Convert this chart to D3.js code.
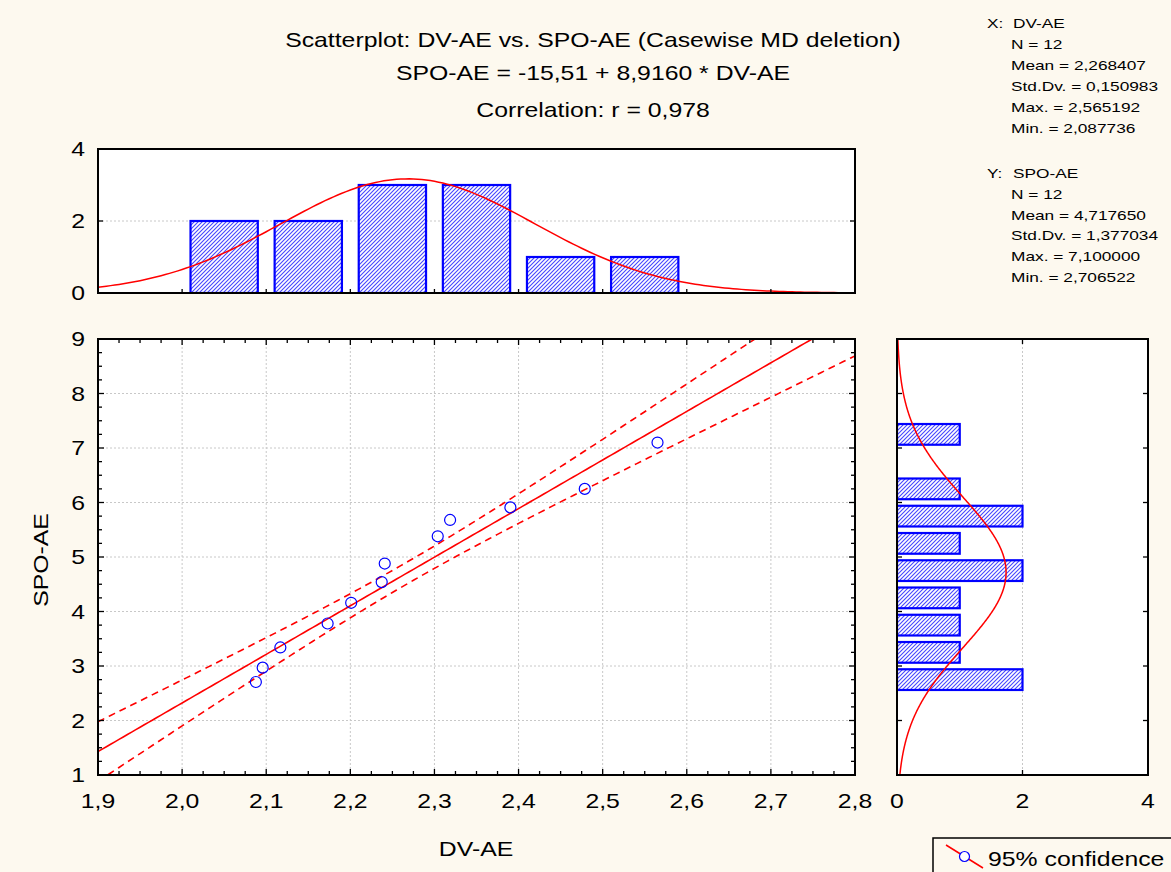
<!DOCTYPE html>
<html><head><meta charset="utf-8">
<script src="https://cdn.jsdelivr.net/npm/d3@7"></script>
<style>
html,body{margin:0;padding:0;background:#fdf9ef;}
svg{display:block;font-family:"Liberation Sans",Arial,sans-serif;}
</style></head>
<body><svg id="c" width="1171" height="872"></svg>
<script>
// ---- data ----
const dvAE  = [2.0877, 2.0958, 2.1168, 2.1730, 2.2010, 2.2373, 2.2409, 2.3039, 2.3186, 2.3903, 2.4787, 2.5652];
const spoAE = [2.7065, 2.9700, 3.3400, 3.7800, 4.1600, 4.5400, 4.8800, 5.3800, 5.6800, 5.9100, 6.2500, 7.1000];
const xBinStarts = [2.0, 2.1, 2.2, 2.3, 2.4, 2.5];
const xBinCounts = [2, 2, 3, 3, 1, 1];
const yBinStarts = [2.5, 3.0, 3.5, 4.0, 4.5, 5.0, 5.5, 6.0, 6.5, 7.0];
const yBinCounts = [2, 1, 1, 1, 2, 1, 2, 1, 0, 1];
const regCoef = [-15.51, 8.9160];           // intercept, slope
const xStats = {n: 12, mean: 2.268407, sd: 0.150983, max: 2.565192, min: 2.087736};
const yStats = {n: 12, mean: 4.717650, sd: 1.377034, max: 7.100000, min: 2.706522};
const xTicks = [1.9, 2.0, 2.1, 2.2, 2.3, 2.4, 2.5, 2.6, 2.7, 2.8];
const yTicks = [1, 2, 3, 4, 5, 6, 7, 8, 9];
const histTicks = [0, 2, 4];
const titleLines = ["Scatterplot: DV-AE vs. SPO-AE (Casewise MD deletion)",
                    "SPO-AE = -15,51 + 8,9160 * DV-AE",
                    "Correlation: r = 0,978"];
const statHeadX = ["X:", "DV-AE"];
const statLinesX = ["N = 12", "Mean = 2,268407", "Std.Dv. = 0,150983", "Max. = 2,565192", "Min. = 2,087736"];
const statHeadY = ["Y:", "SPO-AE"];
const statLinesY = ["N = 12", "Mean = 4,717650", "Std.Dv. = 1,377034", "Max. = 7,100000", "Min. = 2,706522"];
const legendLabel = "95% confidence";

const svg = d3.select("#c");
const fmt1 = v => v.toFixed(1).replace(".", ",");

// text helper: horizontally widened text
function txt(parent, x, y, s, size, anchor, rot, sx) {
  const k = sx || 1.24;
  return parent.append("text")
    .attr("transform", `translate(${x},${y})` + (rot ? ` rotate(${rot})` : "") + ` scale(${k},1)`)
    .attr("font-size", size).attr("text-anchor", anchor || "start").attr("fill", "#000").text(s);
}

const defs = svg.append("defs");
const pat = defs.append("pattern").attr("id","hatch").attr("patternUnits","userSpaceOnUse")
  .attr("width",4).attr("height",4);
pat.append("rect").attr("width",4).attr("height",4).attr("fill","#ffffff");
pat.append("path").attr("d","M-1,1 l2,-2 M0,4 l4,-4 M3,5 l2,-2").attr("stroke","#4646ff").attr("stroke-width",1.1);

// ---- scales ----
const x = d3.scaleLinear().domain([1.9, 2.8]).range([98, 855]);
const y = d3.scaleLinear().domain([1, 9]).range([775, 339]);
const hy = d3.scaleLinear().domain([0, 4]).range([293, 149]);
const hx = d3.scaleLinear().domain([0, 4]).range([897, 1148]);

const RED = "#ff0000", BLUE = "#0000ff";

// ---- plot backgrounds ----
svg.append("rect").attr("x",98).attr("y",149).attr("width",757).attr("height",144).attr("fill","#fff");
svg.append("rect").attr("x",98).attr("y",339).attr("width",757).attr("height",436).attr("fill","#fff");
svg.append("rect").attr("x",897).attr("y",339).attr("width",251).attr("height",436).attr("fill","#fff");

defs.append("clipPath").attr("id","clipS").append("rect").attr("x",98).attr("y",339).attr("width",757).attr("height",436);
defs.append("clipPath").attr("id","clipT").append("rect").attr("x",98).attr("y",149).attr("width",757).attr("height",144);
defs.append("clipPath").attr("id","clipR").append("rect").attr("x",897).attr("y",339).attr("width",251).attr("height",436);

const grid = {stroke:"#c8c8c8", "stroke-width":1, "stroke-dasharray":"2,2"};
function applyAttrs(sel, o){ for (const k in o) sel.attr(k, o[k]); return sel; }

// ---- grids ----
const gS = svg.append("g");
xTicks.slice(1,-1).forEach(t => applyAttrs(gS.append("line").attr("x1",x(t)).attr("x2",x(t)).attr("y1",339).attr("y2",775), grid));
yTicks.slice(1,-1).forEach(t => applyAttrs(gS.append("line").attr("y1",y(t)).attr("y2",y(t)).attr("x1",98).attr("x2",855), grid));
applyAttrs(svg.append("line").attr("x1",98).attr("x2",855).attr("y1",hy(2)).attr("y2",hy(2)), grid);
applyAttrs(svg.append("line").attr("x1",hx(2)).attr("x2",hx(2)).attr("y1",339).attr("y2",775), grid);

// ---- top histogram ----
const gT = svg.append("g").attr("clip-path","url(#clipT)");
gT.selectAll("rect.b").data(xBinStarts).join("rect")
  .attr("x", (d) => x(d + 0.01)).attr("width", x(2.08) - x(2.0))
  .attr("y", (d,i) => hy(xBinCounts[i])).attr("height", (d,i) => hy(0) - hy(xBinCounts[i]))
  .attr("fill","url(#hatch)").attr("stroke",BLUE).attr("stroke-width",2.2);
const normX = d3.range(1.9, 2.8001, 0.005).map(v => [v, xStats.n*0.1/(xStats.sd*Math.sqrt(2*Math.PI))*Math.exp(-0.5*((v-xStats.mean)/xStats.sd)**2)]);
gT.append("path").attr("d", d3.line().x(d=>x(d[0])).y(d=>hy(d[1]))(normX))
  .attr("fill","none").attr("stroke",RED).attr("stroke-width",1.5);

// ---- right histogram ----
const gR = svg.append("g").attr("clip-path","url(#clipR)");
const binH = y(0) - y(0.5);
gR.selectAll("rect.b").data(yBinStarts.filter((d,i)=>yBinCounts[i]>0)).join("rect")
  .attr("x", hx(0)).attr("width", d => hx(yBinCounts[yBinStarts.indexOf(d)]) - hx(0))
  .attr("y", d => y(d + 0.5) + binH*0.12).attr("height", binH*0.76)
  .attr("fill","url(#hatch)").attr("stroke",BLUE).attr("stroke-width",2.2);
const normY = d3.range(1, 9.0001, 0.02).map(v => [v, yStats.n*0.5/(yStats.sd*Math.sqrt(2*Math.PI))*Math.exp(-0.5*((v-yStats.mean)/yStats.sd)**2)]);
gR.append("path").attr("d", d3.line().x(d=>hx(d[1])).y(d=>y(d[0]))(normY))
  .attr("fill","none").attr("stroke",RED).attr("stroke-width",1.5);

// ---- regression + confidence band ----
const n = dvAE.length;
const mx = d3.mean(dvAE);
const sxx = d3.sum(dvAE, v => (v-mx)**2);
const resid = dvAE.map((v,i) => spoAE[i] - (regCoef[0] + regCoef[1]*v));
const s = Math.sqrt(d3.sum(resid, r => r*r)/(n-2));
const tval = 2.228;
const xs = d3.range(1.9, 2.8001, 0.005);
const fit = v => regCoef[0] + regCoef[1]*v;
const hw = v => tval*s*Math.sqrt(1/n + (v-mx)**2/sxx);
const gL = svg.append("g").attr("clip-path","url(#clipS)");
gL.append("path").attr("d", d3.line().x(v=>x(v)).y(v=>y(fit(v)))(xs))
  .attr("fill","none").attr("stroke",RED).attr("stroke-width",1.6);
[1,-1].forEach(sg => gL.append("path").attr("d", d3.line().x(v=>x(v)).y(v=>y(fit(v)+sg*hw(v)))(xs))
  .attr("fill","none").attr("stroke",RED).attr("stroke-width",1.6).attr("stroke-dasharray","7,5"));
gL.selectAll("circle").data(dvAE).join("circle")
  .attr("cx", d => x(d)).attr("cy", (d,i) => y(spoAE[i])).attr("r", 5.5)
  .attr("fill","none").attr("stroke",BLUE).attr("stroke-width",1.2);

// ---- frames and ticks ----
function frame(x0,y0,w,h){
  svg.append("rect").attr("x",x0).attr("y",y0).attr("width",w).attr("height",h)
    .attr("fill","none").attr("stroke","#000").attr("stroke-width",2);
}
const tk = svg.append("g").attr("stroke","#000").attr("stroke-width",1.3);
function tick(x1,y1,x2,y2){ tk.append("line").attr("x1",x1).attr("y1",y1).attr("x2",x2).attr("y2",y2); }

d3.range(0, 37).forEach(i => {
  const v = 1.9 + i*0.025, px = x(v), L = (i%4===0) ? 6 : 4;
  tick(px,775,px,775-L); tick(px,339,px,339+L);
});
d3.range(0, 33).forEach(i => {
  const v = 1 + i*0.25, py = y(v), L = (i%4===0) ? 6 : 4;
  tick(98,py,98+L,py); tick(855,py,855-L,py);
});
histTicks.forEach(t => { tick(98,hy(t),103,hy(t)); tick(855,hy(t),850,hy(t)); });
d3.range(0,10).forEach(i => { const px = x(1.9 + i*0.1); tick(px,293,px,289); });
histTicks.forEach(t => { tick(hx(t),775,hx(t),770); tick(hx(t),339,hx(t),344); });
yTicks.forEach(t => { tick(897,y(t),902,y(t)); tick(1148,y(t),1143,y(t)); });

frame(98,149,757,144);
frame(98,339,757,436);
frame(897,339,251,436);

// ---- labels ----
const lab = svg.append("g");
xTicks.forEach(t => txt(lab, x(t), 808, fmt1(t), 20, "middle"));
yTicks.forEach(t => txt(lab, 85, y(t)+7, String(t), 20, "end"));
histTicks.forEach(t => txt(lab, 85, hy(t)+7, String(t), 20, "end"));
histTicks.forEach(t => txt(lab, hx(t), 808, String(t), 20, "middle"));

txt(lab, 476, 856, "DV-AE", 20, "middle");
txt(lab, 48, 560, "SPO-AE", 20, "middle", -90);

titleLines.forEach((t,i) => txt(lab, 593, [47,80,117][i], t, 20, "middle"));

// stats
const st = svg.append("g");
const SS = 13.5, SK = 1.28;
txt(st, 987, 28, statHeadX[0], SS, null, 0, SK); txt(st, 1013, 28, statHeadX[1], SS, null, 0, SK);
statLinesX.forEach((t,i) => txt(st, 1011, 28 + (i+1)*20.9, t, SS, null, 0, SK));
txt(st, 987, 178, statHeadY[0], SS, null, 0, SK); txt(st, 1013, 178, statHeadY[1], SS, null, 0, SK);
statLinesY.forEach((t,i) => txt(st, 1011, 178 + (i+1)*20.8, t, SS, null, 0, SK));

// legend
svg.append("rect").attr("x",933).attr("y",838).attr("width",260).attr("height",50)
  .attr("fill","#fdf9ef").attr("stroke","#000").attr("stroke-width",1.5);
svg.append("line").attr("x1",946).attr("y1",845).attr("x2",983).attr("y2",868).attr("stroke",RED).attr("stroke-width",1.5);
svg.append("circle").attr("cx",964.5).attr("cy",856.5).attr("r",5).attr("fill","#fff").attr("stroke",BLUE).attr("stroke-width",1.2);
txt(svg, 988, 866, legendLabel, 20);
</script></body></html>
